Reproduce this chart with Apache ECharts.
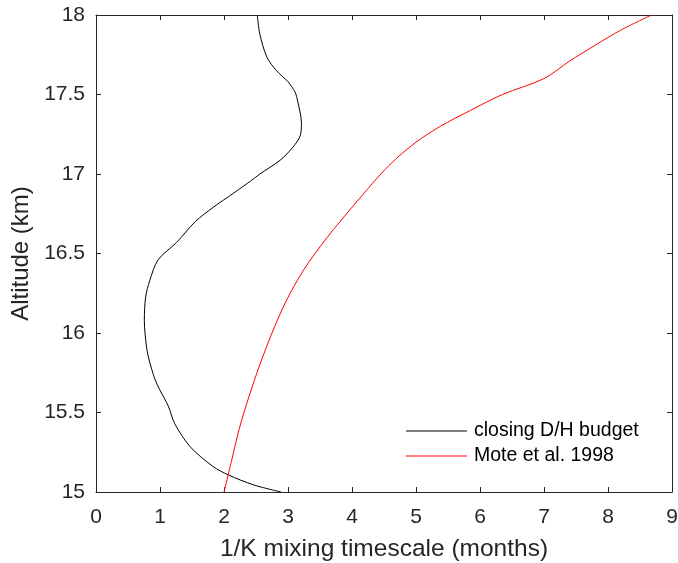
<!DOCTYPE html>
<html><head><meta charset="utf-8">
<script src="https://cdn.jsdelivr.net/npm/echarts@6/dist/echarts.min.js"></script>
<style>html,body{margin:0;padding:0;background:#fff}#c{width:678px;height:563px}</style>
</head><body><div id="c"></div>
<script>
// closing D/H budget: [timescale (months), altitude (km)]
const budgetX = [2.52, 2.56, 2.67, 2.82, 3.00, 3.11, 3.15, 3.21, 3.19, 3.08, 2.875, 2.56, 2.43, 2.15, 1.83, 1.55, 1.26, 0.97, 0.84, 0.776, 0.755, 0.79, 0.83, 0.92, 1.0, 1.13, 1.23, 1.47, 1.83, 2.07, 2.46, 2.89];
const budgetY = [18.0, 17.88, 17.735, 17.65, 17.58, 17.515, 17.46, 17.32, 17.24, 17.17, 17.086, 17.0, 16.96, 16.88, 16.79, 16.70, 16.57, 16.46, 16.33, 16.227, 16.08, 15.91, 15.83, 15.71, 15.64, 15.54, 15.43, 15.285, 15.16, 15.107, 15.045, 15.0];
// Mote et al. 1998
const moteX = [2.0, 2.12, 2.24, 2.39, 2.56, 2.75, 2.97, 3.25, 3.61, 4.02, 4.45, 4.70, 5.0, 5.38, 5.85, 6.35, 7.0, 7.4, 7.8, 8.2, 8.68];
const moteY = [15.0, 15.2, 15.4, 15.6, 15.8, 16.0, 16.2, 16.4, 16.6, 16.8, 17.0, 17.1, 17.2, 17.3, 17.4, 17.5, 17.6, 17.71, 17.81, 17.905, 18.0];
const xTicks = [0, 1, 2, 3, 4, 5, 6, 7, 8, 9];
const yTicks = [15, 15.5, 16, 16.5, 17, 17.5, 18];
const seriesNames = ['closing D/H budget', 'Mote et al. 1998'];

const pair = (xs, ys) => xs.map((x, i) => [x, ys[i]]);
const axCol = '#262626';
const font = 'Liberation Sans, Arial, sans-serif';
const baseAxis = {
  type: 'value',
  axisLine: {show: true, onZero: false, lineStyle: {color: axCol, width: 1}},
  axisTick: {show: true, inside: true, length: 5, lineStyle: {color: axCol}},
  splitLine: {show: false}
};
const chart = echarts.init(document.getElementById('c'), null, {renderer: 'canvas'});
chart.setOption({
  animation: false,
  backgroundColor: '#fff',
  grid: {left: 96, right: 6, top: 15, bottom: 71, containLabel: false, outerBoundsMode: 'none'},
  legend: {
    data: seriesNames,
    orient: 'vertical',
    left: 401, top: 416,
    icon: 'rect', itemWidth: 61, itemHeight: 1, itemGap: 5,
    textStyle: {fontFamily: font, fontSize: 19.5, color: '#000', padding: [0, 0, 0, 2]}
  },
  xAxis: [
    Object.assign({}, baseAxis, {
      position: 'bottom', min: 0, max: 9, interval: 1,
      axisLabel: {fontFamily: font, fontSize: 21, color: axCol, margin: 15, formatter: v => xTicks.includes(v) ? String(v) : ''},
      name: '1/K mixing timescale (months)', nameLocation: 'middle', nameGap: 45,
      nameTextStyle: {fontFamily: font, fontSize: 24.5, color: axCol}
    }),
    Object.assign({}, baseAxis, {position: 'top', min: 0, max: 9, interval: 1, axisLabel: {show: false}})
  ],
  yAxis: [
    Object.assign({}, baseAxis, {
      position: 'left', min: 15, max: 18, interval: 0.5,
      axisLabel: {fontFamily: font, fontSize: 21, color: axCol, margin: 11, formatter: v => yTicks.includes(v) ? String(v) : ''},
      name: 'Altitude (km)', nameLocation: 'middle', nameGap: 59, nameRotate: 90,
      nameTextStyle: {fontFamily: font, fontSize: 24, color: axCol}
    }),
    Object.assign({}, baseAxis, {position: 'right', min: 15, max: 18, interval: 0.5, axisLabel: {show: false}})
  ],
  series: [
    {name: seriesNames[0], type: 'line', data: pair(budgetX, budgetY), showSymbol: false, symbol: 'none', smooth: 0.3,
     lineStyle: {color: '#000', width: 1}, itemStyle: {color: '#000'}},
    {name: seriesNames[1], type: 'line', data: pair(moteX, moteY), showSymbol: false, symbol: 'none', smooth: 0.3,
     lineStyle: {color: '#ff0000', width: 1}, itemStyle: {color: '#ff0000'}}
  ]
});
</script></body></html>
